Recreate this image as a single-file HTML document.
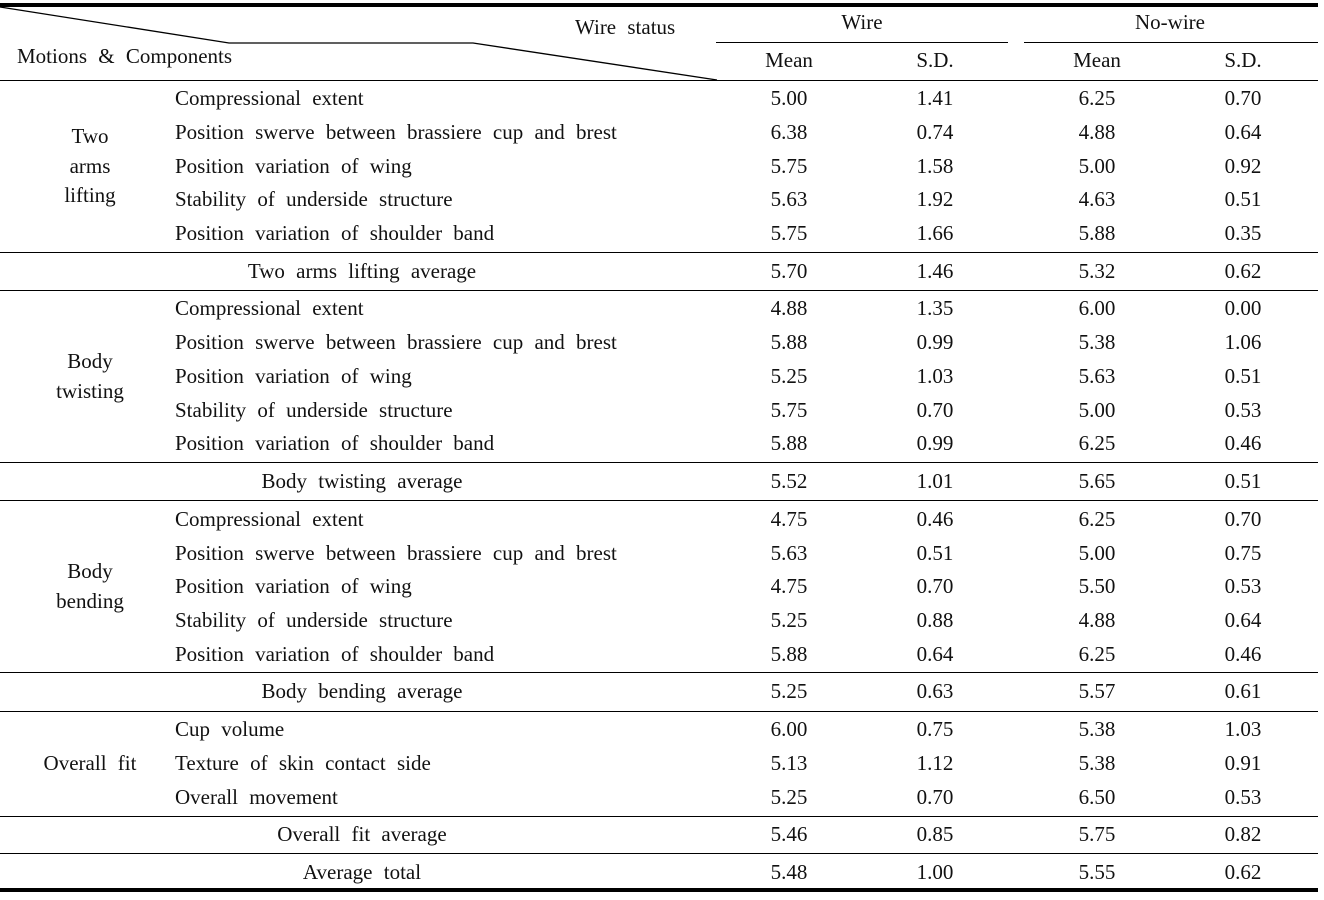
<!DOCTYPE html>
<html><head><meta charset="utf-8"><style>
body{margin:0;width:1324px;height:900px;background:#fff;position:relative;overflow:hidden;font-family:"Liberation Serif",serif;font-size:21px;color:#111;}
.h{position:absolute;left:0;width:1318px;height:1px;background:#000;}
.t{position:absolute;line-height:22px;white-space:nowrap;word-spacing:6px;}
.c{position:absolute;line-height:22px;white-space:nowrap;transform:translateX(-50%);word-spacing:6px;}
</style></head><body>
<div style="position:absolute;left:0;top:3px;width:1318px;height:4px;background:#000"></div>
<div style="position:absolute;left:0;top:888px;width:1318px;height:4px;background:#000"></div>
<svg width="1324" height="900" style="position:absolute;left:0;top:0">
<polyline points="0,7 229,43 473,43 717,80" fill="none" stroke="#000" stroke-width="1.3"/>
<line x1="716" y1="42.5" x2="1008" y2="42.5" stroke="#000" stroke-width="1"/>
<line x1="1024" y1="42.5" x2="1318" y2="42.5" stroke="#000" stroke-width="1"/>
</svg>
<div class="h" style="top:80px"></div>
<div class="h" style="top:252px"></div>
<div class="h" style="top:290px"></div>
<div class="h" style="top:462px"></div>
<div class="h" style="top:500px"></div>
<div class="h" style="top:672px"></div>
<div class="h" style="top:711px"></div>
<div class="h" style="top:816px"></div>
<div class="h" style="top:853px"></div>

<div class="t" style="left:575px;top:16px">Wire status</div>
<div class="t" style="left:17px;top:45px">Motions &amp; Components</div>
<div class="c" style="left:862px;top:11px">Wire</div>
<div class="c" style="left:1170px;top:11px">No-wire</div>
<div class="c" style="left:789px;top:49px">Mean</div>
<div class="c" style="left:935px;top:49px">S.D.</div>
<div class="c" style="left:1097px;top:49px">Mean</div>
<div class="c" style="left:1243px;top:49px">S.D.</div>

<div class="c" style="left:90px;top:125px">Two</div>
<div class="c" style="left:90px;top:155px">arms</div>
<div class="c" style="left:90px;top:184px">lifting</div>
<div class="c" style="left:90px;top:350px">Body</div>
<div class="c" style="left:90px;top:380px">twisting</div>
<div class="c" style="left:90px;top:560px">Body</div>
<div class="c" style="left:90px;top:590px">bending</div>
<div class="c" style="left:90px;top:752px">Overall fit</div>

<div class="t" style="left:175px;top:87px">Compressional extent</div>
<div class="t" style="left:175px;top:121px">Position swerve between brassiere cup and brest</div>
<div class="t" style="left:175px;top:155px">Position variation of wing</div>
<div class="t" style="left:175px;top:188px">Stability of underside structure</div>
<div class="t" style="left:175px;top:222px">Position variation of shoulder band</div>
<div class="c" style="left:362px;top:260px">Two arms lifting average</div>
<div class="c" style="left:789px;top:87px">5.00</div><div class="c" style="left:935px;top:87px">1.41</div><div class="c" style="left:1097px;top:87px">6.25</div><div class="c" style="left:1243px;top:87px">0.70</div>
<div class="c" style="left:789px;top:121px">6.38</div><div class="c" style="left:935px;top:121px">0.74</div><div class="c" style="left:1097px;top:121px">4.88</div><div class="c" style="left:1243px;top:121px">0.64</div>
<div class="c" style="left:789px;top:155px">5.75</div><div class="c" style="left:935px;top:155px">1.58</div><div class="c" style="left:1097px;top:155px">5.00</div><div class="c" style="left:1243px;top:155px">0.92</div>
<div class="c" style="left:789px;top:188px">5.63</div><div class="c" style="left:935px;top:188px">1.92</div><div class="c" style="left:1097px;top:188px">4.63</div><div class="c" style="left:1243px;top:188px">0.51</div>
<div class="c" style="left:789px;top:222px">5.75</div><div class="c" style="left:935px;top:222px">1.66</div><div class="c" style="left:1097px;top:222px">5.88</div><div class="c" style="left:1243px;top:222px">0.35</div>
<div class="c" style="left:789px;top:260px">5.70</div><div class="c" style="left:935px;top:260px">1.46</div><div class="c" style="left:1097px;top:260px">5.32</div><div class="c" style="left:1243px;top:260px">0.62</div>

<div class="t" style="left:175px;top:297px">Compressional extent</div>
<div class="t" style="left:175px;top:331px">Position swerve between brassiere cup and brest</div>
<div class="t" style="left:175px;top:365px">Position variation of wing</div>
<div class="t" style="left:175px;top:399px">Stability of underside structure</div>
<div class="t" style="left:175px;top:432px">Position variation of shoulder band</div>
<div class="c" style="left:362px;top:470px">Body twisting average</div>
<div class="c" style="left:789px;top:297px">4.88</div><div class="c" style="left:935px;top:297px">1.35</div><div class="c" style="left:1097px;top:297px">6.00</div><div class="c" style="left:1243px;top:297px">0.00</div>
<div class="c" style="left:789px;top:331px">5.88</div><div class="c" style="left:935px;top:331px">0.99</div><div class="c" style="left:1097px;top:331px">5.38</div><div class="c" style="left:1243px;top:331px">1.06</div>
<div class="c" style="left:789px;top:365px">5.25</div><div class="c" style="left:935px;top:365px">1.03</div><div class="c" style="left:1097px;top:365px">5.63</div><div class="c" style="left:1243px;top:365px">0.51</div>
<div class="c" style="left:789px;top:399px">5.75</div><div class="c" style="left:935px;top:399px">0.70</div><div class="c" style="left:1097px;top:399px">5.00</div><div class="c" style="left:1243px;top:399px">0.53</div>
<div class="c" style="left:789px;top:432px">5.88</div><div class="c" style="left:935px;top:432px">0.99</div><div class="c" style="left:1097px;top:432px">6.25</div><div class="c" style="left:1243px;top:432px">0.46</div>
<div class="c" style="left:789px;top:470px">5.52</div><div class="c" style="left:935px;top:470px">1.01</div><div class="c" style="left:1097px;top:470px">5.65</div><div class="c" style="left:1243px;top:470px">0.51</div>

<div class="t" style="left:175px;top:508px">Compressional extent</div>
<div class="t" style="left:175px;top:542px">Position swerve between brassiere cup and brest</div>
<div class="t" style="left:175px;top:575px">Position variation of wing</div>
<div class="t" style="left:175px;top:609px">Stability of underside structure</div>
<div class="t" style="left:175px;top:643px">Position variation of shoulder band</div>
<div class="c" style="left:362px;top:680px">Body bending average</div>
<div class="c" style="left:789px;top:508px">4.75</div><div class="c" style="left:935px;top:508px">0.46</div><div class="c" style="left:1097px;top:508px">6.25</div><div class="c" style="left:1243px;top:508px">0.70</div>
<div class="c" style="left:789px;top:542px">5.63</div><div class="c" style="left:935px;top:542px">0.51</div><div class="c" style="left:1097px;top:542px">5.00</div><div class="c" style="left:1243px;top:542px">0.75</div>
<div class="c" style="left:789px;top:575px">4.75</div><div class="c" style="left:935px;top:575px">0.70</div><div class="c" style="left:1097px;top:575px">5.50</div><div class="c" style="left:1243px;top:575px">0.53</div>
<div class="c" style="left:789px;top:609px">5.25</div><div class="c" style="left:935px;top:609px">0.88</div><div class="c" style="left:1097px;top:609px">4.88</div><div class="c" style="left:1243px;top:609px">0.64</div>
<div class="c" style="left:789px;top:643px">5.88</div><div class="c" style="left:935px;top:643px">0.64</div><div class="c" style="left:1097px;top:643px">6.25</div><div class="c" style="left:1243px;top:643px">0.46</div>
<div class="c" style="left:789px;top:680px">5.25</div><div class="c" style="left:935px;top:680px">0.63</div><div class="c" style="left:1097px;top:680px">5.57</div><div class="c" style="left:1243px;top:680px">0.61</div>

<div class="t" style="left:175px;top:718px">Cup volume</div>
<div class="t" style="left:175px;top:752px">Texture of skin contact side</div>
<div class="t" style="left:175px;top:786px">Overall movement</div>
<div class="c" style="left:362px;top:823px">Overall fit average</div>
<div class="c" style="left:362px;top:861px">Average total</div>
<div class="c" style="left:789px;top:718px">6.00</div><div class="c" style="left:935px;top:718px">0.75</div><div class="c" style="left:1097px;top:718px">5.38</div><div class="c" style="left:1243px;top:718px">1.03</div>
<div class="c" style="left:789px;top:752px">5.13</div><div class="c" style="left:935px;top:752px">1.12</div><div class="c" style="left:1097px;top:752px">5.38</div><div class="c" style="left:1243px;top:752px">0.91</div>
<div class="c" style="left:789px;top:786px">5.25</div><div class="c" style="left:935px;top:786px">0.70</div><div class="c" style="left:1097px;top:786px">6.50</div><div class="c" style="left:1243px;top:786px">0.53</div>
<div class="c" style="left:789px;top:823px">5.46</div><div class="c" style="left:935px;top:823px">0.85</div><div class="c" style="left:1097px;top:823px">5.75</div><div class="c" style="left:1243px;top:823px">0.82</div>
<div class="c" style="left:789px;top:861px">5.48</div><div class="c" style="left:935px;top:861px">1.00</div><div class="c" style="left:1097px;top:861px">5.55</div><div class="c" style="left:1243px;top:861px">0.62</div>
</body></html>
